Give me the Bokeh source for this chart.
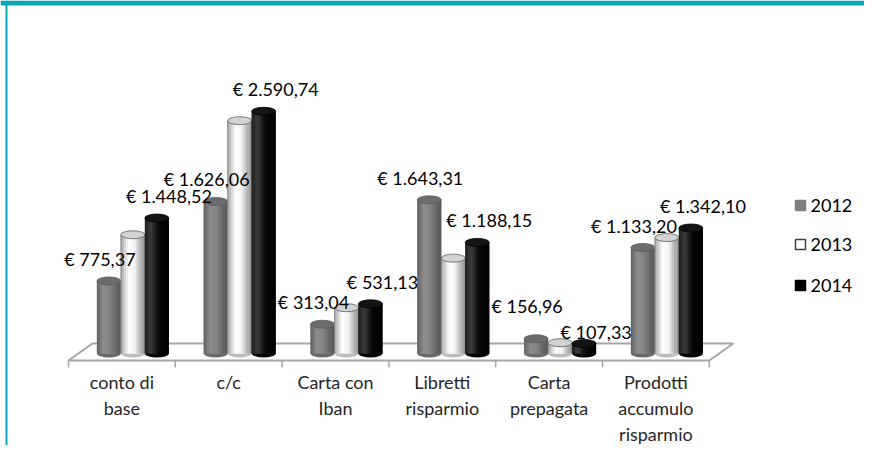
from bokeh.plotting import figure
from bokeh.models import Range1d
from bokeh.core.properties import value
from bokeh.embed import file_html
from bokeh.resources import INLINE

# ---------------- data ----------------
categories = ["conto di\nbase", "c/c", "Carta con\nIban", "Libretti\nrisparmio",
              "Carta\nprepagata", "Prodotti\naccumulo\nrisparmio"]
years = ["2012", "2013", "2014"]
v2012 = [775.37, 1626.06, 313.04, 1643.31, 156.96, 1133.20]
v2013 = [1270.0, 2490.0, 490.0, 1020.0, 115.0, 1240.0]
v2014 = [1448.52, 2590.74, 531.13, 1188.15, 107.33, 1342.10]
labelled_years = ["2012", "2014"]

series = {"2012": v2012, "2013": v2013, "2014": v2014}

# ---------------- layout (page pixels) ----------------
W, H = 864, 445
OX, OY = 0, 0
CAT_PX = 106.8        # width of one category on the floor
X0_PX = 68            # left tick of first category
BASE_PX = 353         # pixel row of value 0
PX_PER_EUR = 0.0935
DEPTH_X, DEPTH_Y = 24, 17
FLOOR_FRONT = 360
GROUP_SHIFT_PX = 11
BAR_PX = 24
CAP_PX = 8
LABEL_GAP_PX = 22
MIN_LABEL_SEP_PX = 15
SPREAD_PX = 26
TEAL = "#08A6B8"
FONT = "Lato"


def xd(px):
    return (px - X0_PX) / CAT_PX


def yd(py):
    return (BASE_PX - py) / PX_PER_EUR


p = figure(width=W, height=H, output_backend="svg", toolbar_location=None,
           x_range=Range1d(xd(OX), xd(OX + W)), y_range=Range1d(yd(OY + H), yd(OY)),
           x_axis_location=None, y_axis_location=None, min_border=0)
p.grid.visible = False
p.outline_line_color = None
p.background_fill_color = "white"

# frame decoration
p.quad(left=[xd(OX)], right=[xd(OX + W)], top=[yd(OY)], bottom=[yd(OY + 5)],
       fill_color=TEAL, line_color=None)
p.quad(left=[xd(OX + 5)], right=[xd(OX + 7)], top=[yd(OY)], bottom=[yd(OY + H)],
       fill_color=TEAL, line_color=None)

# floor
n = len(categories)
fl = X0_PX
fr = X0_PX + n * CAT_PX
p.patch(x=[xd(fl), xd(fl + DEPTH_X), xd(fr + DEPTH_X), xd(fr)],
        y=[yd(FLOOR_FRONT), yd(FLOOR_FRONT - DEPTH_Y), yd(FLOOR_FRONT - DEPTH_Y), yd(FLOOR_FRONT)],
        fill_color="white", line_color="#a6a6a6", line_width=2)
ticks = [k for k in range(n + 1)]
p.segment(x0=ticks, x1=ticks, y0=[yd(FLOOR_FRONT)] * len(ticks), y1=[yd(FLOOR_FRONT + 7)] * len(ticks),
          line_color="#a6a6a6", line_width=1.5)


def hex2rgb(h):
    h = h.lstrip("#")
    return tuple(int(h[i:i + 2], 16) for i in (0, 2, 4))


def interp(stops, t):
    for (t0, c0), (t1, c1) in zip(stops[:-1], stops[1:]):
        if t0 <= t <= t1:
            a = (t - t0) / (t1 - t0) if t1 > t0 else 0
            r0, r1 = hex2rgb(c0), hex2rgb(c1)
            return "#%02x%02x%02x" % tuple(int(round(r0[i] + (r1[i] - r0[i]) * a)) for i in range(3))
    return stops[-1][1]


profiles = {
    "2012": [(0, "#5c5c5c"), (0.3, "#8d8d8d"), (0.55, "#858585"), (1, "#555555")],
    "2013": [(0, "#9c9c9c"), (0.35, "#ffffff"), (0.6, "#f4f4f4"), (1, "#8e8e8e")],
    "2014": [(0, "#1c1c1c"), (0.28, "#3c3c3c"), (0.6, "#080808"), (1, "#000000")],
}
caps = {"2012": ("#6c6c6c", "#5a5a5a"), "2013": ("#d2d2d2", "#606060"), "2014": ("#141414", "#000000")}
bottoms = {"2012": "#6a6a6a", "2013": "#bdbdbd", "2014": "#050505"}
legend_fill = {"2012": "#808080", "2013": "#ffffff", "2014": "#000000"}
legend_line = {"2012": "#808080", "2013": "#404040", "2014": "#000000"}
label_dx = {"2012": -9, "2014": 12}

BW = BAR_PX / CAT_PX
CAP_H = CAP_PX / PX_PER_EUR
NSTRIP = 12


def fmt_eur(v):
    s = f"{v:,.2f}".replace(",", "X").replace(".", ",").replace("X", ".")
    return "€ " + s


centers_by_year = {}
for j, yr in enumerate(years):
    vals = series[yr]
    centers = [i + 0.5 + GROUP_SHIFT_PX / CAT_PX + (j - 1) * BW for i in range(n)]
    centers_by_year[yr] = centers
    # bottom rounding
    p.ellipse(x=centers, y=[0] * n, width=BW, height=CAP_H,
              fill_color=bottoms[yr], line_color=None)
    # solid body underneath, then shaded strips
    p.vbar(x=centers, width=BW, top=vals, bottom=0,
           fill_color=interp(profiles[yr], 0.5), line_color=None)
    for k in range(NSTRIP):
        t = (k + 0.5) / NSTRIP
        xs = [c - BW / 2 + t * BW for c in centers]
        w = BW / NSTRIP * (1.0 if k in (0, NSTRIP - 1) else 1.8)
        p.vbar(x=xs, width=w, top=vals, bottom=0,
               fill_color=interp(profiles[yr], t), line_color=None)
    if yr == "2013":
        p.segment(x0=[c - BW / 2 for c in centers], x1=[c - BW / 2 for c in centers],
                  y0=[0] * n, y1=vals, line_color="#7a7a7a", line_width=0.8)
        p.segment(x0=[c + BW / 2 for c in centers], x1=[c + BW / 2 for c in centers],
                  y0=[0] * n, y1=vals, line_color="#6a6a6a", line_width=0.8)
    # top cap
    p.ellipse(x=centers, y=vals, width=BW, height=CAP_H,
              fill_color=caps[yr][0], line_color=caps[yr][1], line_width=0.8)

# data labels, on top of all bars; spread apart labels of one group that would collide
ya, yb = labelled_years
lab_y = {ya: [], yb: []}
for i in range(n):
    pa = series[ya][i] * PX_PER_EUR + LABEL_GAP_PX   # height above base in px
    pb = series[yb][i] * PX_PER_EUR + LABEL_GAP_PX
    if abs(pa - pb) < MIN_LABEL_SEP_PX:
        mid = (pa + pb) / 2
        if series[ya][i] >= series[yb][i]:
            pa, pb = mid + SPREAD_PX / 2, mid - SPREAD_PX / 2
        else:
            pa, pb = mid - SPREAD_PX / 2, mid + SPREAD_PX / 2
    lab_y[ya].append(pa / PX_PER_EUR)
    lab_y[yb].append(pb / PX_PER_EUR)

for yr in labelled_years:
    vals = series[yr]
    p.text(x=[c + label_dx[yr] / CAT_PX for c in centers_by_year[yr]],
           y=lab_y[yr],
           text=[fmt_eur(v) for v in vals],
           text_align="center", text_baseline="middle",
           text_font=value(FONT), text_font_size="18px", text_color="#000000")

# category labels
p.text(x=[i + 0.5 for i in range(n)], y=[yd(370)] * n, text=categories,
       text_align="center", text_baseline="top", text_line_height=1.2,
       text_font=value(FONT), text_font_size="18px", text_color="#262626")

# legend
leg_y = [205, 244, 285]
p.scatter(x=[xd(800)] * 3, y=[yd(v) for v in leg_y], marker="square", size=10,
          fill_color=[legend_fill[y] for y in years], line_color=[legend_line[y] for y in years],
          line_width=1.5)
p.text(x=[xd(810)] * 3, y=[yd(v) for v in leg_y], text=years,
       text_align="left", text_baseline="middle",
       text_font=value(FONT), text_font_size="18px", text_color="#000000")

open("out.html", "w").write(file_html(p, INLINE))
